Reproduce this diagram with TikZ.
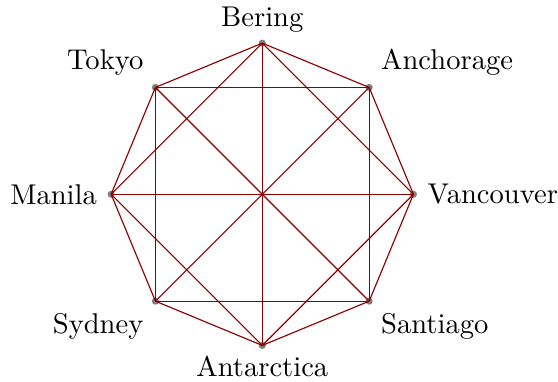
\documentclass[tikz,border=0pt]{standalone}
\usetikzlibrary{positioning}
\tikzset{city/.style={circle,fill=gray,inner sep=0pt,minimum size=2.5pt},
  road/.style={red!55!black,line width=0.4pt}}
\begin{document}
\begin{tikzpicture}[x=1pt,y=1pt]
\useasboundingbox (-91.8,-65.7) rectangle (103.5,68.0);
% cities on a circle, counter-clockwise from the east
\foreach \name/\ang/\pos/\gap [count=\i] in {Vancouver/0/right/0,Anchorage/45/above right/-0.5,Bering/90/above/-1.2,Tokyo/135/above left/-0.5,Manila/180/left/0,Sydney/225/below left/-0.5,Antarctica/270/below/-1.2,Santiago/315/below right/-0.5}
  \node[city,label={[label distance=\gap pt]\pos:\name}] (c\i) at (\ang:52.9) {};
% neighbours and next-but-one neighbours
\foreach \i in {1,...,8} \foreach \d in {1,2} {
  \pgfmathtruncatemacro\j{mod(\i+\d-1,8)+1}
  \draw[road] (c\i.center) -- (c\j.center);}
% diameters
\foreach \i in {1,...,4} {
  \pgfmathtruncatemacro\j{\i+4}
  \draw[road] (c\i.center) -- (c\j.center);}
\end{tikzpicture}
\end{document}
